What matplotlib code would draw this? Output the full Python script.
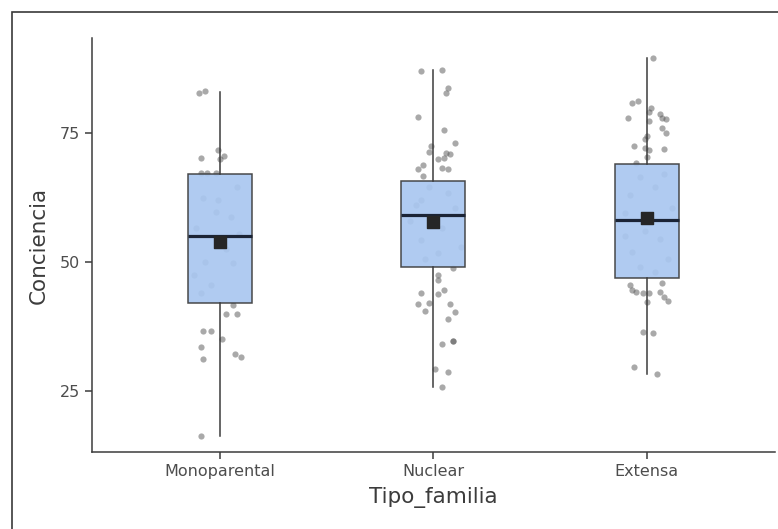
import numpy as np
import matplotlib.pyplot as plt
from matplotlib.patches import Rectangle

plt.rcParams['font.family'] = ['DejaVu Sans']

categorias = ['Monoparental', 'Nuclear', 'Extensa']

# resumen de cada caja
q1 = [42.0, 49.0, 46.9]
mediana = [55.0, 59.1, 58.1]
q3 = [67.0, 65.7, 69.0]
bigote_inf = [16.3, 25.8, 28.3]
bigote_sup = [83.0, 87.2, 89.5]
medias = [53.9, 57.7, 58.5]

# puntos individuales y su desplazamiento horizontal (jitter)
mono_vals = [82.8, 83.1, 71.7, 70.2, 70.0, 70.5, 67.2, 67.2, 67.3,
             62.4, 62.0, 59.7, 58.7, 56.5, 55.5, 50.0, 49.8, 45.5, 44.0, 64.5, 52.5, 47.5,
             41.7, 39.9, 39.9, 36.6, 36.6, 35.1, 33.5, 31.2, 32.2, 31.6, 16.3]
mono_jit = [-0.10, -0.07, -0.01, -0.09, 0.00, 0.02, -0.09, -0.06, -0.02,
            -0.08, -0.01, -0.02, 0.05, -0.11, 0.09, -0.07, 0.06, -0.04, -0.09, 0.08, 0.03, -0.12,
            0.06, 0.03, 0.08, -0.08, -0.04, 0.01, -0.09, -0.08, 0.07, 0.10, -0.09]

nuc_vals = [87.0, 87.2, 83.7, 82.8, 78.1, 75.6, 73.1, 72.5, 71.3, 71.1, 70.9, 70.0, 70.2,
            68.8, 68.0, 68.2, 68.0, 66.7,
            62.0, 63.4, 54.3, 51.7, 64.5, 60.5, 58.0, 56.5, 50.5, 53.0, 61.0,
            48.8, 47.5, 46.5, 44.0, 44.6, 43.8, 42.1, 41.9, 41.9, 40.5, 40.3, 39.0,
            34.1, 34.7, 34.7, 29.3, 28.7, 25.8]
nuc_jit = [-0.06, 0.04, 0.07, 0.06, -0.07, 0.05, 0.10, -0.01, -0.02, 0.06, 0.08, 0.02, 0.05,
           -0.05, -0.07, 0.04, 0.07, -0.05,
           -0.06, 0.07, -0.06, 0.02, -0.02, 0.10, -0.11, 0.04, -0.04, 0.13, -0.08,
           0.09, 0.02, 0.02, -0.06, 0.05, 0.02, -0.02, -0.07, 0.08, -0.04, 0.10, 0.07,
           0.04, 0.09, 0.09, 0.01, 0.07, 0.04]

ext_vals = [89.5, 80.8, 81.2, 79.8, 79.1, 77.9, 78.7, 77.9, 77.7, 77.3, 76.0, 75.0, 74.4,
            73.8, 72.5, 72.1, 71.7, 71.9, 70.3, 69.2,
            66.5, 67.0, 63.0, 64.5, 60.5, 59.5, 56.0, 54.5, 52.0, 50.5, 49.0, 48.0, 55.0,
            45.5, 44.6, 44.2, 44.0, 44.0, 44.2, 43.2, 42.4, 42.2, 45.9, 36.4, 36.2, 29.7, 28.3]
ext_jit = [0.03, -0.07, -0.04, 0.02, 0.01, -0.09, 0.06, 0.07, 0.09, 0.01, 0.07, 0.09, 0.00,
           -0.01, -0.06, -0.01, 0.01, 0.08, 0.00, -0.05,
           -0.03, 0.08, -0.08, 0.04, 0.12, -0.10, -0.01, 0.06, -0.07, 0.10, -0.03, 0.04, -0.10,
           -0.08, -0.07, -0.05, -0.02, 0.01, 0.06, 0.08, 0.10, 0.00, 0.07, -0.02, 0.03, -0.06, 0.05]

puntos = [(mono_vals, mono_jit), (nuc_vals, nuc_jit), (ext_vals, ext_jit)]

fig = plt.figure(figsize=(7.78, 5.29), dpi=100)
ax = fig.add_axes([0.118, 0.1456, 0.878, 0.7826])

# marco exterior de la imagen
fig.patches.append(Rectangle((12 / 778, -0.1), 1.2, 1.1 - 12 / 529, transform=fig.transFigure,
                             fill=False, edgecolor='#3a3a3a', linewidth=1.2))

# puntos con jitter
for i, (vals, jit) in enumerate(puntos):
    x = i + 1 + np.array(jit)
    ax.scatter(x, vals, s=20, color='#555555', alpha=0.5, linewidths=0, zorder=1)

# cajas
stats = []
for i, cat in enumerate(categorias):
    stats.append(dict(label=cat, q1=q1[i], med=mediana[i], q3=q3[i],
                      whislo=bigote_inf[i], whishi=bigote_sup[i], fliers=[]))

ax.bxp(stats, positions=[1, 2, 3], widths=0.30, patch_artist=True, showcaps=False,
       boxprops=dict(facecolor='#a9c7f0', edgecolor='#3c3c3c', linewidth=1.1, alpha=0.92),
       medianprops=dict(color='#1b2436', linewidth=2.3),
       whiskerprops=dict(color='#3c3c3c', linewidth=1.1), zorder=2)

# media
ax.scatter([1, 2, 3], medias, marker='s', s=80, color='#262626', zorder=4)

ax.set_xlim(0.4, 3.6)
ax.set_ylim(13.2, 93.4)
ax.set_yticks([25, 50, 75])
ax.set_xticks([1, 2, 3])
ax.set_xticklabels(categorias)

for s in ['top', 'right']:
    ax.spines[s].set_visible(False)
for s in ['left', 'bottom']:
    ax.spines[s].set_color('#3c3c3c')
    ax.spines[s].set_linewidth(1.1)

ax.tick_params(axis='both', colors='#3c3c3c', length=5, width=1.1, labelsize=11.5,
               labelcolor='#4d4d4d')
ax.set_xlabel('Tipo_familia', fontsize=15.5, color='#3c3c3c', labelpad=6)
ax.set_ylabel('Conciencia', fontsize=15.5, color='#3c3c3c', labelpad=8)

fig.savefig('out.png', dpi=100)
